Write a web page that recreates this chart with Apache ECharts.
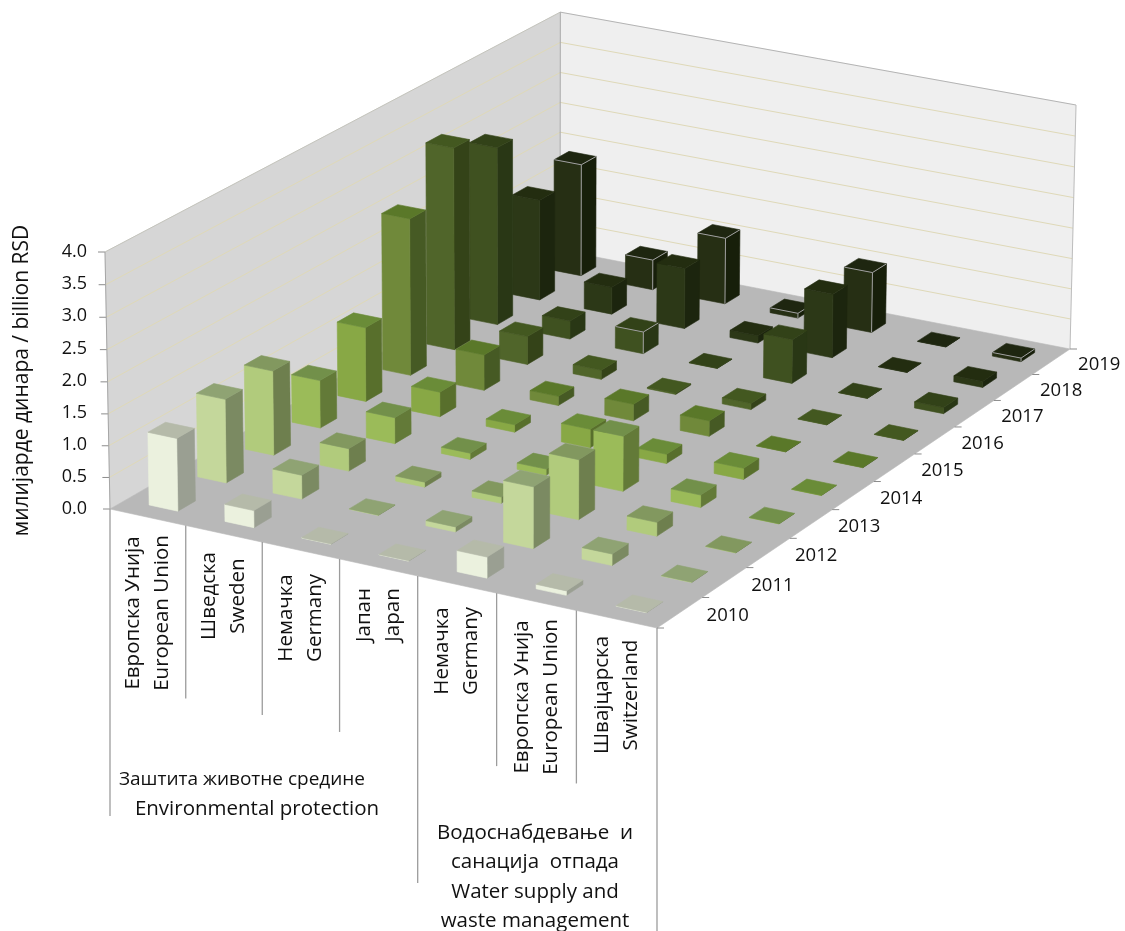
<!DOCTYPE html>
<html><head><meta charset="utf-8">
<style>html,body{margin:0;padding:0;background:#fff}#c{width:1125px;height:931px}</style>
<script src="https://cdn.jsdelivr.net/npm/echarts@6/dist/echarts.min.js"></script>
</head><body><div id="c"></div>
<script>
// ---- data ----
const years = ['2010','2011','2012','2013','2014','2015','2016','2017','2018','2019'];
const categories = ['Европска Унија\nEuropean Union','Шведска\nSweden','Немачка\nGermany','Јапан\nJapan','Немачка\nGermany','Европска Унија\nEuropean Union','Швајцарска\nSwitzerland'];
const groupEnvSr = 'Заштита животне средине';
const groupEnvEn = 'Environmental protection';
const groupWater = 'Водоснабдевање  и\nсанација  отпада\nWater supply and\nwaste management';
const envEU      = [1.15,1.33,1.35,0.77,1.20,2.55,3.30,2.92,1.67,1.87];
const envSweden  = [0.27,0.38,0.36,0.42,0.40,0.58,0.46,0.30,0.45,0.50];
const envGermany = [0.005,0.005,0.08,0.10,0.12,0.15,0.15,0.36,1.00,1.10];
const envJapan   = [0.005,0.08,0.10,0.10,0.30,0.27,0.02,0.005,0.12,0.08];
const watGermany = [0.33,0.97,0.95,0.88,0.15,0.25,0.10,0.72,1.05,1.00];
const watEU      = [0.07,0.18,0.22,0.20,0.18,0.005,0.005,0.005,0.005,0.005];
const watSwiss   = [0.005,0.005,0.005,0.005,0.005,0.005,0.005,0.10,0.10,0.06];
const seriesValues = [envEU,envSweden,envGermany,envJapan,watGermany,watEU,watSwiss];
const edgedBars = [[2,7]];
// ---- style ----
const faceFront = ['#EBF1DE','#C4D79B','#B1CB7C','#9BBB59','#88A845','#70893A','#50652A','#3F5120','#2C3817','#262F14'];
const faceSide  = ['#9A9F92','#7B8A62','#6E7F4E','#637A38','#586F2C','#465A24','#344318','#293715','#1C250E','#171F0A'];
const faceTop   = ['#B5BAA9','#8FA373','#82985F','#72904A','#6A8C38','#5A7829','#435820','#324218','#232D10','#1E2610'];
const FONT = '"Open Sans", "Noto Sans", sans-serif';
const catLabelY = [613,596,618,615,651,697,695];
// ---- camera: floor corners and wall tops in page pixels ----
const G = {left:110, top:252, width:547, height:257};
const FL=[110,509], FR=[657,628], BR=[1070,349], BL=[560,250];
const TFL=[105,252], TBL=[560,15], TBR=[1076,105];
const sx=FL[0]-FR[0]+BR[0]-BL[0], sy=FL[1]-FR[1]+BR[1]-BL[1];
const dx1=FR[0]-BR[0], dx2=BL[0]-BR[0], dy1=FR[1]-BR[1], dy2=BL[1]-BR[1];
const den=dx1*dy2-dx2*dy1;
const g=(sx*dy2-dx2*sy)/den, h=(dx1*sy-sx*dy1)/den;
const a=FR[0]-FL[0]+g*FR[0], b=BL[0]-FL[0]+h*BL[0], c=FL[0];
const d=FR[1]-FL[1]+g*FR[1], e=BL[1]-FL[1]+h*BL[1], f=FL[1];
function hom(u,v){return [a*u+b*v+c, d*u+e*v+f, g*u+h*v+1];}
const hF=hom(0,0), hR=hom(1,1), hB=hom(0,1);
const A1=TFL[1]*hF[2]-hF[1], A2=TBR[1]*hR[2]-hR[1];
const r=(A1-A2)/(TBR[1]-TFL[1]);
const q=A1+TFL[1]*r;
const X1=TFL[0]*hF[2]-hF[0], X2=TBR[0]*hR[2]-hR[0];
const rx=(X1-X2)/(TBR[0]-TFL[0]);
const px=X1+TFL[0]*rx;
function P(u,v,w){const H=hom(u,v);return [(H[0]+px*w)/(H[2]+rx*w),(H[1]+q*w)/(H[2]+r*w)];}
const Ym=4, BW=0.38, BD=0.36;

function poly(points,fill,extra){return Object.assign({type:'polygon',shape:{points:points},style:{fill:fill,stroke:fill,lineWidth:0.6}},extra||{});}
function line(p1,p2,col,w){return {type:'line',shape:{x1:p1[0],y1:p1[1],x2:p2[0],y2:p2[1]},style:{stroke:col,lineWidth:w||1,fill:null}};}

function renderWalls(params,api){
  const kids=[];
  kids.push(poly([P(0,0,0),P(0,1,0),P(0,1,1),P(0,0,1)],'#D6D6D6'));
  kids.push(poly([P(0,1,0),P(1,1,0),P(1,1,1),P(0,1,1)],'#EFEFEF'));
  kids.push(poly([P(0,0,0),P(1,0,0),P(1,1,0),P(0,1,0)],'#B8B8B8'));
  const yZero=api.coord([0,0])[1];
  for(let t=0;t<=Ym+1e-9;t+=0.5){
    const w=(yZero-api.coord([0,t])[1])/G.height;
    if(t>0) {
      kids.push(line(P(0,0,w),P(0,1,w),t===Ym?'#C4C4BC':'#DFD9B8'));
      kids.push(line(P(0,1,w),P(1,1,w),t===Ym?'#B4B4B4':'#DFD9B8'));
    }
    const s=P(0,0,w);
    kids.push(line([s[0]-7,s[1]],s,'#8C8C8C'));
  }
  kids.push(line(P(0,0,0),P(0,0,1),'#A6A6A6'));
  kids.push(line(P(0,1,0),P(0,1,1),'#A6A6A6'));
  kids.push(line(P(1,1,0),P(1,1,1),'#BDBDBD'));
  for(let j=0;j<=years.length;j++){
    const s=P(1,j/years.length,0);
    kids.push(line(s,[s[0]+7,s[1]],'#8C8C8C'));
  }
  return {type:'group',children:kids};
}
function renderBar(params,api){
  const ci=api.value(0), val=api.value(1), yi=api.value(2);
  const pt=api.coord([ci,val]), base=api.coord([ci,0]);
  const u=(pt[0]-G.left)/G.width, w=(base[1]-pt[1])/G.height;
  const v=(yi+0.5)/years.length;
  const hu=BW/categories.length/2, hv=BD/years.length/2;
  const u0=u-hu,u1=u+hu,v0=v-hv,v1=v+hv;
  const kids=[
    poly([P(u1,v0,0),P(u1,v1,0),P(u1,v1,w),P(u1,v0,w)],faceSide[yi]),
    poly([P(u0,v0,0),P(u1,v0,0),P(u1,v0,w),P(u0,v0,w)],faceFront[yi]),
    poly([P(u0,v0,w),P(u1,v0,w),P(u1,v1,w),P(u0,v1,w)],faceTop[yi])
  ];
  if(val>0.02&&(yi===9||edgedBars.some(x=>x[0]===ci&&x[1]===yi))){
    const col='#A0A0A0';
    kids.push(line(P(u0,v0,w),P(u1,v0,w),col));
    kids.push(line(P(u1,v0,w),P(u1,v1,w),col));
    kids.push(line(P(u1,v0,w),P(u1,v0,0),col));
  }
  kids.forEach(k=>{k.z2=params.dataIndex;});
  return {type:'group',children:kids};
}
function txt(x,y,s,rot,lh,size){return {type:'text',x:x,y:y,rotation:rot||0,style:{text:s,font:(size||20.5)+'px '+FONT,fill:'#111',align:'center',verticalAlign:'middle',lineHeight:lh||30}};}
function renderCatLabels(params,api){
  const kids=[];
  const n=categories.length, majors={0:1,4:1,7:1};
  for(let i=0;i<=n;i++){
    const s=P(i/n,0,0);
    kids.push(line(s,[s[0],s[1]+(majors[i]?307:173)],'#9C9C9C',1.3));
  }
  categories.forEach((t,i)=>{
    const s=P((i+0.5)/n,0,0);
    kids.push(txt(s[0],catLabelY[i],t,Math.PI/2,29));
  });
  years.forEach((t,j)=>{
    const s=P(1,(j+0.5)/years.length,0);
    kids.push(txt(s[0]+48,s[1]+3,t,0,20,18.5));
  });
  kids.push(txt(242,780,groupEnvSr,0,29,19));
  kids.push(txt(257,809,groupEnvEn,0,29));
  kids.push(txt(535,877,groupWater,0,29.5));
  return {type:'group',children:kids};
}
// back-to-front, left-to-right
const barData=[];
for(let j=years.length-1;j>=0;j--){
  for(let i=0;i<categories.length;i++) barData.push([i,seriesValues[i][j],j]);
}
const chart=echarts.init(document.getElementById('c'),null,{renderer:'canvas'});
chart.setOption({
  animation:false, backgroundColor:'#fff',
  grid:{left:G.left,top:G.top,width:G.width,height:G.height},
  xAxis:{type:'category',data:categories.map((_, i)=>i),show:false},
  yAxis:{type:'value',min:0,max:Ym,interval:0.5,splitLine:{show:false},axisLine:{show:false},axisTick:{show:false},
    axisLabel:{margin:23,fontFamily:FONT,fontSize:18,color:'#111',formatter:v=>v.toFixed(1)},
    name:'милијарде динара / billion RSD',nameLocation:'middle',nameRotate:90,nameGap:77,
    nameTextStyle:{fontFamily:FONT,fontSize:21,color:'#111'}},
  tooltip:{show:false},
  series:[
    {type:'custom',silent:true,renderItem:renderWalls,data:[[0,0]],encode:{x:0,y:1},z:1},
    {type:'custom',silent:true,renderItem:renderBar,data:barData,encode:{x:0,y:1},z:2},
    {type:'custom',silent:true,renderItem:renderCatLabels,data:[[0,0]],encode:{x:0,y:1},z:3}
  ]
});
</script></body></html>
